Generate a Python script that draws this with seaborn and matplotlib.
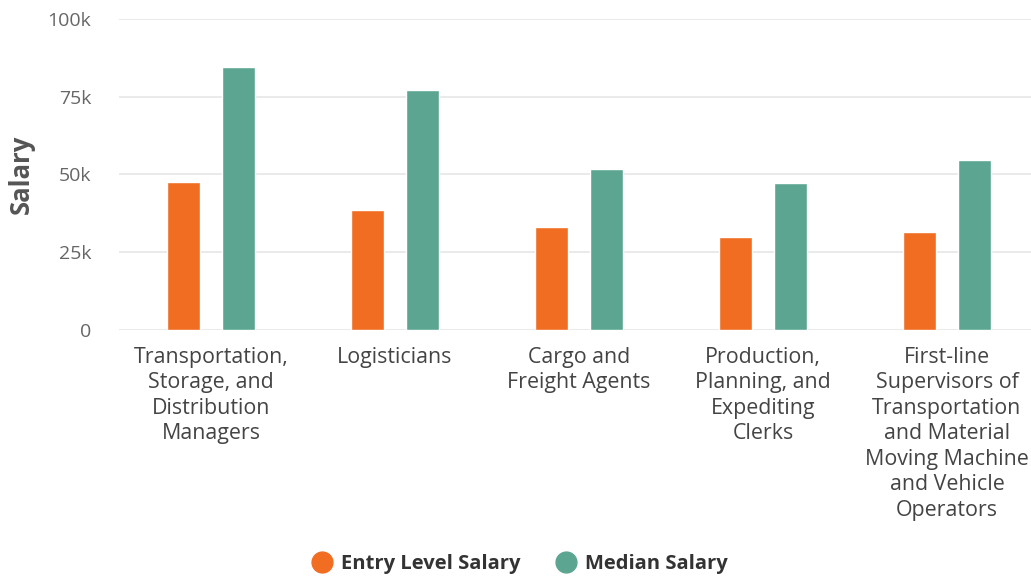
import pandas as pd
import matplotlib.pyplot as plt
import seaborn as sns
from matplotlib.lines import Line2D
from matplotlib.ticker import FuncFormatter

# --- data ---
occupations = [
    "Transportation,\nStorage, and\nDistribution\nManagers",
    "Logisticians",
    "Cargo and\nFreight Agents",
    "Production,\nPlanning, and\nExpediting\nClerks",
    "First-line\nSupervisors of\nTransportation\nand Material\nMoving Machine\nand Vehicle\nOperators",
]
series_names = ["Entry Level Salary", "Median Salary"]
entry_salary = [47700, 38700, 33200, 30000, 31400]
median_salary = [84700, 77100, 51700, 47400, 54700]
y_ticks = [0, 25000, 50000, 75000, 100000]

colors = ["#F06D22", "#5CA691"]

df = pd.DataFrame({
    "occupation": occupations * 2,
    "series": [series_names[0]] * len(occupations) + [series_names[1]] * len(occupations),
    "salary": entry_salary + median_salary,
})

sns.set_theme(style="white")
plt.rcParams["font.family"] = ["Open Sans", "DejaVu Sans"]

fig = plt.figure(figsize=(10.31, 5.77), dpi=100)
ax = fig.add_axes([119 / 1031, 1 - 330 / 577, 920 / 1031, 311 / 577])

sns.barplot(data=df, x="occupation", y="salary", hue="series",
            palette=colors, width=0.59, gap=0.39, saturation=1,
            ax=ax, legend=False)

ax.set_xlim(-0.5, 4.5)
ax.set_ylim(0, 100000)
ax.set_yticks(y_ticks)
ax.yaxis.set_major_formatter(FuncFormatter(lambda v, p: "0" if v == 0 else f"{int(v / 1000)}k"))
ax.grid(axis="y", color="#e6e6e6", linewidth=1.2)
ax.set_axisbelow(True)
for s in ax.spines.values():
    s.set_visible(False)

ax.tick_params(axis="y", length=0, pad=20, labelsize=14, labelcolor="#666666")
ax.tick_params(axis="x", length=0, pad=12, labelsize=15.4, labelcolor="#444444")
for lbl in ax.get_xticklabels():
    lbl.set_linespacing(1.28)
ax.set_xlabel("")
ax.set_ylabel("Salary", fontsize=18.5, fontweight="bold", color="#555555", va="center")
ax.yaxis.set_label_coords(-98 / 920, 0.5)

handles = [Line2D([0], [0], marker="o", linestyle="", markersize=15,
                  markerfacecolor=c, markeredgecolor=c) for c in colors]
fig.legend(handles, series_names, loc="center", bbox_to_anchor=(519 / 1031, 1 - 564 / 577),
           ncol=2, frameon=False, handlelength=1.2, handletextpad=0.35, columnspacing=1.65,
           prop={"weight": "bold", "size": 14.5}, labelcolor="#333333")

fig.savefig("out.png", dpi=100)
